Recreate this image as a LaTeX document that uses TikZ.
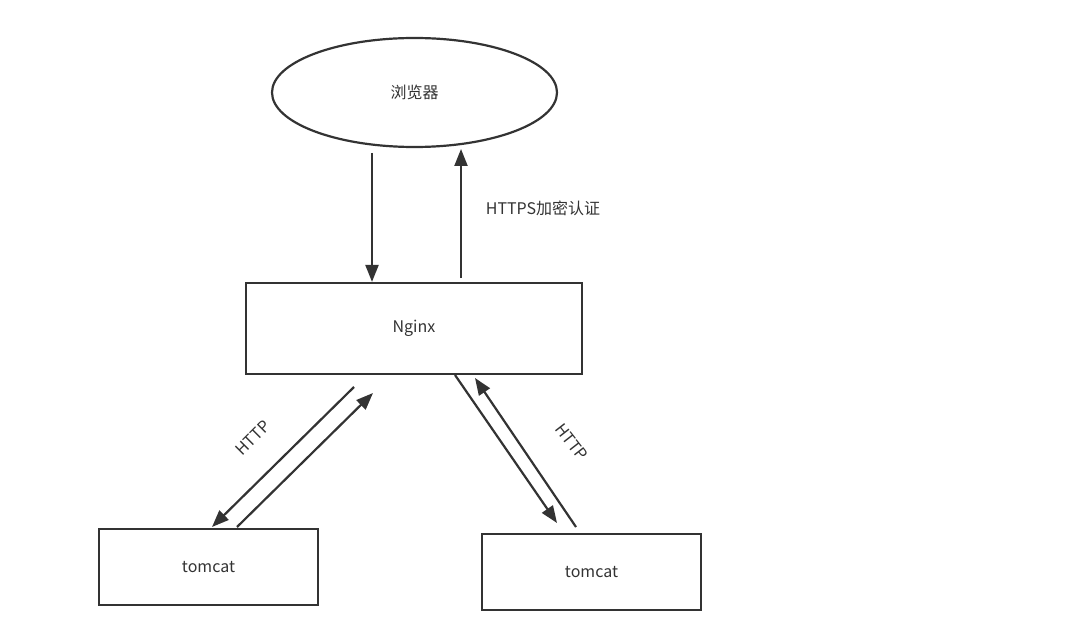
\documentclass[tikz,border=0pt]{standalone}
\usepackage{fontspec}
\setmainfont{Noto Sans CJK SC}
\usepackage{xcolor}
\definecolor{ink}{RGB}{51,51,51}
\usetikzlibrary{shapes.geometric}
\usetikzlibrary{arrows.meta}
\tikzset{>={Triangle[length=17pt,width=13pt]}}
\tikzset{
  box/.style={draw=ink, line width=2.2pt, rectangle, inner sep=0pt, font=\fontsize{16}{19}\selectfont, text=ink},
  flow/.style={->, draw=ink, line width=2.2pt},
  lbl/.style={font=\fontsize{16}{19}\selectfont, text=ink, inner sep=1pt}
}

\begin{document}
\begin{tikzpicture}[x=1pt,y=-1pt]
    \useasboundingbox (0,0) rectangle (1070,644);
    \node[box,ellipse,minimum width=285pt,minimum height=109pt](browser) at (414.5,92.5) {浏览器};
    \node[box,minimum width=336pt,minimum height=91pt](nginx) at (414,328.5) {Nginx};
    \node[box,minimum width=219pt,minimum height=76pt](tomcatL) at (208.5,567) {tomcat};
    \node[box,minimum width=219pt,minimum height=76pt](tomcatR) at (591.5,572) {tomcat};
    % browser <-> nginx
    \begin{scope}
        \coordinate (down) at (372,153);
        \coordinate (up) at (461,278);
        \draw[flow] (down) -- (down |- nginx.north);
        \draw[flow] (up) -- (461,149);
    \end{scope}
    \node[lbl](https) at (543,208) {HTTPS加密认证};
    % nginx <-> tomcat
    \coordinate (l1) at (354,387);
    \coordinate (l2) at (237,527);
    \coordinate (r1) at (455,375);
    \coordinate (r2) at (576,527);
    \draw[flow] (l1) -- (212,527);
    \draw[flow] (l2) -- (373,393);
    \draw[flow] (r1) -- (557,523);
    \draw[flow] (r2) -- (475,378);
    \node[lbl,rotate=45](httpL) at (253,438) {HTTP};
    \node[lbl,rotate=-52](httpR) at (572,442) {HTTP};
\end{tikzpicture}
\end{document}
